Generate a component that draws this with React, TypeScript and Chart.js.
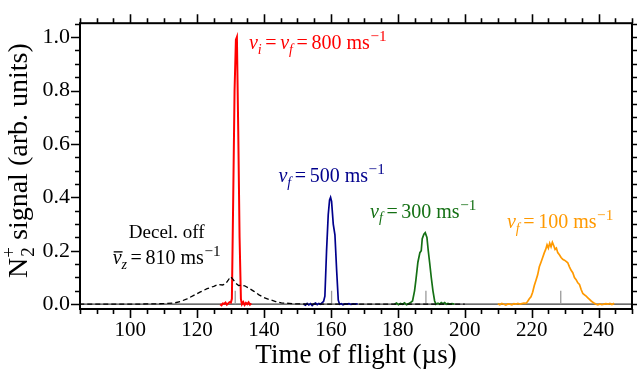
import React, { useEffect, useRef } from 'react';
import { Chart, registerables } from 'chart.js';

Chart.register(...registerables);

const FONT = '"Liberation Serif", "Times New Roman", serif';

// Axis settings
const X_MIN = 85;
const X_MAX = 250;
const Y_MIN = -0.018;
const Y_MAX = 1.052;
const xTickValues = [100, 120, 140, 160, 180, 200, 220, 240];
const yTickValues = [0, 0.2, 0.4, 0.6, 0.8, 1.0];
const X_MINOR_STEP = 5;
const Y_MINOR_STEP = 0.05;

// Decelerator off (dashed black)
const offTime = [80, 100, 106, 110, 113, 115, 117, 119, 121, 123, 125, 126.4, 127.6, 128.5, 129.3, 130.0, 130.8, 131.6, 132.4, 133.3, 134.2, 135.5, 137, 138.5, 140, 141.7, 143.5, 145.2, 147.5, 150, 153, 157, 165, 200];
const offSignal = [0, 0, 0.001, 0.002, 0.004, 0.01, 0.02, 0.033, 0.046, 0.058, 0.067, 0.074, 0.072, 0.076, 0.09, 0.103, 0.092, 0.078, 0.07, 0.071, 0.069, 0.06, 0.048, 0.035, 0.025, 0.017, 0.01, 0.005, 0.003, 0.001, 0.0005, 0, 0, 0];

// vf = 800 m/s (red)
const v800Time = [126.9, 127.3, 127.7, 128.1, 128.5, 128.9, 129.3, 129.7, 130.1, 130.4, 130.8, 131.2, 131.6, 131.9, 132.3, 132.7, 133.1, 133.4, 133.8, 134.2, 134.6, 135.0, 135.4, 135.8, 136.2];
const v800Signal = [0.0, -0.004, 0.003, 0.001, 0.006, -0.002, 0.003, 0.008, 0.006, 0.02, 0.4, 0.8, 0.99, 1.0, 0.65, 0.25, 0.02, 0.0, 0.008, -0.003, 0.005, 0.0, 0.007, -0.002, 0.003];

// vf = 500 m/s (blue)
const v500Time = [151.9, 152.4, 152.9, 153.4, 153.9, 154.4, 154.9, 155.4, 155.9, 156.4, 156.9, 157.4, 157.8, 158.2, 158.7, 159.2, 159.6, 159.9, 160.2, 160.7, 161.2, 161.7, 162.2, 162.6, 163.1, 163.6, 164.2, 164.8, 165.4, 166.0, 166.6, 167.2, 168.0];
const v500Signal = [0.0, -0.004, 0.003, -0.003, 0.002, -0.005, 0.001, 0.004, -0.002, 0.003, 0.0, 0.006, 0.01, 0.03, 0.2, 0.335, 0.39, 0.4, 0.385, 0.3, 0.26, 0.13, 0.015, 0.0, 0.002, -0.002, 0.001, 0.0, 0.002, -0.001, 0.001, 0.0, 0.001];

// vf = 300 m/s (green)
const v300Time = [179.0, 179.6, 180.2, 180.8, 181.4, 182.0, 182.6, 183.2, 183.8, 184.4, 185.0, 185.4, 186.0, 186.6, 187.0, 187.3, 187.8, 188.2, 188.7, 189.1, 189.5, 190.0, 190.5, 191.0, 191.4, 192.0, 192.5, 193.0, 193.5, 194.0, 194.5, 195.0, 195.6, 196.2, 196.9];
const v300Signal = [0.0, 0.004, -0.002, 0.003, 0.0, 0.005, -0.002, 0.002, 0.006, 0.012, 0.05, 0.09, 0.157, 0.193, 0.2, 0.245, 0.262, 0.268, 0.25, 0.2, 0.157, 0.1, 0.05, 0.012, 0.0, 0.004, 0.0, 0.006, 0.002, 0.006, 0.0, 0.003, 0.0, 0.002, 0.0];

// vf = 100 m/s (orange)
const v100Time = [209.9, 210.5, 211.1, 211.7, 212.3, 212.9, 213.5, 214.1, 214.7, 215.3, 215.9, 216.5, 217.1, 217.7, 218.3, 218.8, 219.3, 219.8, 220.3, 220.8, 221.3, 221.8, 222.3, 222.8, 223.3, 223.8, 224.2, 224.6, 225.0, 225.4, 225.8, 226.2, 226.6, 227.0, 227.4, 227.8, 228.3, 228.8, 229.3, 229.8, 230.3, 230.8, 231.3, 231.8, 232.3, 232.8, 233.3, 233.8, 234.3, 234.8, 235.3, 235.8, 236.3, 236.8, 237.3, 237.8, 238.3, 238.8, 239.3, 239.8, 240.4, 241.0, 241.6, 242.2, 242.8, 243.4, 244.0, 244.7];
const v100Signal = [0.002, -0.002, 0.003, 0.0, -0.003, 0.001, 0.0, -0.002, 0.002, 0.0, 0.003, 0.0, 0.002, 0.004, 0.003, 0.01, 0.02, 0.028, 0.045, 0.07, 0.09, 0.11, 0.14, 0.157, 0.175, 0.193, 0.205, 0.222, 0.21, 0.228, 0.215, 0.232, 0.22, 0.205, 0.21, 0.193, 0.185, 0.175, 0.168, 0.165, 0.16, 0.155, 0.14, 0.127, 0.118, 0.1, 0.092, 0.08, 0.074, 0.055, 0.04, 0.035, 0.03, 0.024, 0.018, 0.012, 0.007, 0.003, 0.0, -0.002, 0.001, -0.002, 0.0, 0.002, 0.0, 0.003, -0.001, 0.003];

// Expected arrival times (gray markers)
const markerTimes = [131.4, 160.2, 188.4, 228.7];
const MARKER_HEIGHT = 0.05;

const COLORS = {
  off: '#000000',
  v800: '#ff0000',
  v500: '#00008c',
  v300: '#147014',
  v100: '#ff9900',
};

type Seg = { t?: string; it?: boolean; sub?: boolean; sup?: boolean; bar?: boolean; gap?: number };

const EQ_GAP = 0.18;

const labelSpecs: { x: number; y: number; color: string; align: 'left' | 'center'; size: number; segs: Seg[] }[] = [
  {
    x: 135.5, y: 0.956, color: COLORS.v800, align: 'left', size: 20,
    segs: [{ t: 'v', it: true }, { t: 'i', it: true, sub: true }, { gap: EQ_GAP }, { t: '=' }, { gap: EQ_GAP }, { t: 'v', it: true }, { t: 'f', it: true, sub: true }, { gap: EQ_GAP }, { t: '=' }, { gap: EQ_GAP }, { t: '800 ms' }, { gap: 0.03 }, { t: '\u22121', sup: true }],
  },
  {
    x: 144.3, y: 0.457, color: COLORS.v500, align: 'left', size: 20,
    segs: [{ t: 'v', it: true }, { t: 'f', it: true, sub: true }, { gap: EQ_GAP }, { t: '=' }, { gap: EQ_GAP }, { t: '500 ms' }, { gap: 0.03 }, { t: '\u22121', sup: true }],
  },
  {
    x: 171.7, y: 0.324, color: COLORS.v300, align: 'left', size: 20,
    segs: [{ t: 'v', it: true }, { t: 'f', it: true, sub: true }, { gap: EQ_GAP }, { t: '=' }, { gap: EQ_GAP }, { t: '300 ms' }, { gap: 0.03 }, { t: '\u22121', sup: true }],
  },
  {
    x: 212.6, y: 0.285, color: COLORS.v100, align: 'left', size: 20,
    segs: [{ t: 'v', it: true }, { t: 'f', it: true, sub: true }, { gap: EQ_GAP }, { t: '=' }, { gap: EQ_GAP }, { t: '100 ms' }, { gap: 0.03 }, { t: '\u22121', sup: true }],
  },
  {
    x: 110.9, y: 0.246, color: COLORS.off, align: 'center', size: 19,
    segs: [{ t: 'Decel. off' }],
  },
  {
    x: 110.9, y: 0.151, color: COLORS.off, align: 'center', size: 20,
    segs: [{ t: 'v', it: true, bar: true }, { t: 'z', it: true, sub: true }, { gap: EQ_GAP }, { t: '=' }, { gap: EQ_GAP }, { t: '810 ms' }, { gap: 0.03 }, { t: '\u22121', sup: true }],
  },
];

function segFont(s: Seg, size: number) {
  const sz = s.sub ? size * 0.7 : s.sup ? size * 0.76 : size;
  return `${s.it ? 'italic ' : ''}${sz}px ${FONT}`;
}

function drawMath(ctx: CanvasRenderingContext2D, segs: Seg[], x: number, y: number, size: number, color: string, align: 'left' | 'center') {
  const widths = segs.map((s) => {
    if (s.gap) return s.gap * size;
    ctx.font = segFont(s, size);
    return ctx.measureText(s.t || '').width;
  });
  const total = widths.reduce((a, b) => a + b, 0);
  let cx = align === 'center' ? x - total / 2 : x;
  ctx.fillStyle = color;
  ctx.strokeStyle = color;
  ctx.textBaseline = 'alphabetic';
  ctx.textAlign = 'left';
  segs.forEach((s, i) => {
    if (!s.gap) {
      ctx.font = segFont(s, size);
      const dy = s.sub ? size * 0.24 : s.sup ? -size * 0.4 : 0;
      ctx.fillText(s.t || '', cx, y + dy);
      if (s.bar) {
        ctx.lineWidth = 1.3;
        ctx.beginPath();
        ctx.moveTo(cx + 1, y - size * 0.6);
        ctx.lineTo(cx + widths[i] + 1, y - size * 0.6);
        ctx.stroke();
      }
    }
    cx += widths[i];
  });
}

const decorPlugin = {
  id: 'decor',
  beforeDatasetsDraw(chart: any) {
    const { ctx, chartArea: a, scales } = chart;
    const xs = scales.x;
    const ys = scales.y;
    ctx.save();
    ctx.beginPath();
    ctx.rect(a.left, a.top, a.right - a.left, a.bottom - a.top);
    ctx.clip();
    const y0 = ys.getPixelForValue(0);
    ctx.strokeStyle = '#3c3c3c';
    ctx.lineWidth = 1.3;
    ctx.beginPath();
    ctx.moveTo(a.left, y0);
    ctx.lineTo(a.right, y0);
    ctx.stroke();
    ctx.strokeStyle = '#9a9a9a';
    ctx.lineWidth = 1.3;
    markerTimes.forEach((t) => {
      const px = xs.getPixelForValue(t);
      ctx.beginPath();
      ctx.moveTo(px, y0);
      ctx.lineTo(px, ys.getPixelForValue(MARKER_HEIGHT));
      ctx.stroke();
    });
    ctx.restore();
  },
  afterDraw(chart: any) {
    const { ctx, chartArea: a, scales } = chart;
    const xs = scales.x;
    const ys = scales.y;
    ctx.save();
    // frame
    ctx.strokeStyle = '#000';
    ctx.lineWidth = 2;
    ctx.strokeRect(a.left, a.top, a.right - a.left, a.bottom - a.top);
    // ticks
    ctx.lineWidth = 1.6;
    const MAJ = 9;
    const MIN = 5;
    for (let k = Math.ceil(X_MIN / X_MINOR_STEP); k * X_MINOR_STEP <= X_MAX; k++) {
      const v = k * X_MINOR_STEP;
      const major = xTickValues.some((t) => Math.abs(t - v) < 1e-6);
      const len = major ? MAJ : MIN;
      const px = Math.round(xs.getPixelForValue(v)) + 0.5;
      ctx.beginPath();
      ctx.moveTo(px, a.bottom);
      ctx.lineTo(px, a.bottom + len);
      ctx.moveTo(px, a.top);
      ctx.lineTo(px, a.top - len);
      ctx.stroke();
    }
    for (let k = Math.ceil(Y_MIN / Y_MINOR_STEP - 1e-9); k * Y_MINOR_STEP <= Y_MAX + 1e-9; k++) {
      const v = k * Y_MINOR_STEP;
      const major = yTickValues.some((t) => Math.abs(t - v) < 1e-6);
      const len = major ? MAJ : MIN;
      const py = Math.round(ys.getPixelForValue(v)) + 0.5;
      ctx.beginPath();
      ctx.moveTo(a.left, py);
      ctx.lineTo(a.left - len, py);
      ctx.moveTo(a.right, py);
      ctx.lineTo(a.right + len, py);
      ctx.stroke();
    }
    // y-axis title: N2+ signal (arb. units)
    const TS = 28;
    ctx.translate(26.5, (a.top + a.bottom) / 2 - 5.5);
    ctx.rotate(-Math.PI / 2);
    ctx.fillStyle = '#000';
    ctx.textBaseline = 'alphabetic';
    ctx.textAlign = 'left';
    ctx.font = `${TS}px ${FONT}`;
    const wN = ctx.measureText('N').width;
    const rest = ' signal (arb. units)';
    const wRest = ctx.measureText(rest).width;
    ctx.font = `${TS * 0.68}px ${FONT}`;
    const wScript = Math.max(ctx.measureText('2').width, ctx.measureText('+').width);
    const total = wN + wScript + wRest;
    let cx = -total / 2;
    ctx.font = `${TS}px ${FONT}`;
    ctx.fillText('N', cx, 0);
    cx += wN;
    ctx.font = `${TS * 0.68}px ${FONT}`;
    ctx.fillText('2', cx + 1, TS * 0.25);
    ctx.fillText('+', cx, -TS * 0.42);
    cx += wScript;
    ctx.font = `${TS}px ${FONT}`;
    ctx.fillText(rest, cx, 0);
    ctx.restore();

    // annotations
    ctx.save();
    labelSpecs.forEach((l) => {
      drawMath(ctx, l.segs, xs.getPixelForValue(l.x), ys.getPixelForValue(l.y), l.size, l.color, l.align);
    });
    ctx.restore();
  },
};

function toPoints(t: number[], s: number[]) {
  return t.map((x, i) => ({ x, y: s[i] }));
}

export default function App() {
  const ref = useRef<HTMLCanvasElement | null>(null);
  useEffect(() => {
    document.body.style.margin = '0';
    const canvas = ref.current;
    if (!canvas) return;
    const chart = new Chart(canvas, {
      type: 'line',
      data: {
        datasets: [
          { data: toPoints(offTime, offSignal), borderColor: COLORS.off, borderWidth: 1.3, borderDash: [5, 3], pointRadius: 0, fill: false },
          { data: toPoints(v800Time, v800Signal), borderColor: COLORS.v800, borderWidth: 2, pointRadius: 0, fill: false },
          { data: toPoints(v500Time, v500Signal), borderColor: COLORS.v500, borderWidth: 1.7, pointRadius: 0, fill: false },
          { data: toPoints(v300Time, v300Signal), borderColor: COLORS.v300, borderWidth: 1.7, pointRadius: 0, fill: false },
          { data: toPoints(v100Time, v100Signal), borderColor: COLORS.v100, borderWidth: 1.7, pointRadius: 0, fill: false },
        ],
      },
      options: {
        responsive: false,
        animation: false,
        devicePixelRatio: 1,
        layout: { padding: { top: 9, right: 5, left: 0, bottom: 0 } },
        plugins: { legend: { display: false }, tooltip: { enabled: false } },
        elements: { line: { tension: 0 }, point: { radius: 0 } },
        scales: {
          x: {
            type: 'linear',
            min: X_MIN,
            max: X_MAX,
            afterBuildTicks: (s: any) => {
              s.ticks = xTickValues.map((v) => ({ value: v }));
            },
            afterFit: (s: any) => {
              s.height = 65;
            },
            grid: { display: false, drawTicks: false },
            border: { display: false },
            ticks: {
              color: '#000',
              font: { family: FONT, size: 21 },
              padding: 9,
              maxRotation: 0,
              autoSkip: false,
              callback: (v: any) => String(v),
            },
            title: {
              display: true,
              text: 'Time of flight (\u00b5s)',
              color: '#000',
              font: { family: FONT, size: 27 },
              padding: { top: 0, bottom: 2 },
            },
          },
          y: {
            type: 'linear',
            min: Y_MIN,
            max: Y_MAX,
            afterBuildTicks: (s: any) => {
              s.ticks = yTickValues.map((v) => ({ value: v }));
            },
            afterFit: (s: any) => {
              s.width = 80;
            },
            grid: { display: false, drawTicks: false },
            border: { display: false },
            ticks: {
              color: '#000',
              font: { family: FONT, size: 22 },
              padding: 10,
              autoSkip: false,
              callback: (v: any) => Number(v).toFixed(1),
            },
          },
        },
      },
      plugins: [decorPlugin],
    } as any);
    return () => chart.destroy();
  }, []);
  return <canvas ref={ref} width={637} height={374} style={{ display: 'block', width: 637, height: 374 }} />;
}
